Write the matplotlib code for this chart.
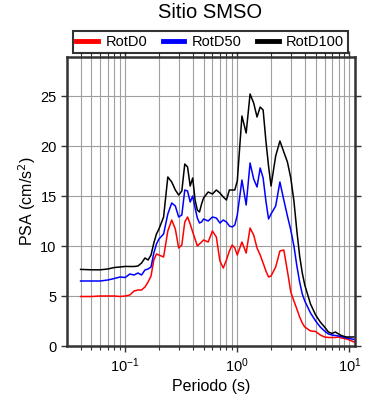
import numpy as np
import matplotlib
matplotlib.use("Agg")
import matplotlib.pyplot as plt
from matplotlib.ticker import LogLocator, NullFormatter, MultipleLocator

plt.rcParams['font.family'] = ['Liberation Sans', 'DejaVu Sans']

periodo = [0.04, 0.05, 0.06, 0.07, 0.08, 0.09, 0.10, 0.11, 0.12, 0.13, 0.14, 0.15,
           0.16, 0.17, 0.18, 0.19, 0.20, 0.22, 0.24, 0.26, 0.28, 0.30, 0.32, 0.34,
           0.36, 0.38, 0.40, 0.42, 0.44, 0.46, 0.48, 0.50, 0.55, 0.60, 0.65, 0.70,
           0.75, 0.80, 0.85, 0.90, 0.95, 1.0, 1.1, 1.2, 1.3, 1.4, 1.5, 1.6, 1.7,
           1.8, 1.9, 2.0, 2.2, 2.4, 2.6, 2.8, 3.0, 3.2, 3.4, 3.6, 3.8, 4.0, 4.5,
           5.0, 5.5, 6.0, 6.5, 7.0, 7.5, 8.0, 8.5, 9.0, 9.5, 10.0, 11.0]

rotd100 = [7.66, 7.62, 7.62, 7.7, 7.85, 7.9, 7.96, 7.95, 7.95, 8.0, 8.3, 8.8,
           8.6, 9.1, 10.3, 11.2, 11.7, 12.9, 16.9, 16.4, 15.6, 15.1, 15.5, 18.2,
           17.9, 16.0, 16.8, 14.6, 13.6, 13.4, 14.2, 14.8, 15.4, 15.2, 15.6, 15.3,
           14.9, 14.6, 15.6, 15.6, 15.6, 16.5, 23.0, 21.3, 25.2, 24.3, 22.9, 23.9, 23.6,
           20.5, 18.0, 16.0, 19.0, 20.5, 19.4, 18.4, 16.8, 14.5, 11.5, 9.0, 7.3, 6.1, 4.2,
           3.1, 2.4, 1.9, 1.4, 1.25, 1.4, 1.2, 1.05, 0.95, 0.9, 0.9, 0.9]

rotd50 = [6.5, 6.5, 6.5, 6.6, 6.75, 6.9, 6.85, 7.2, 7.1, 7.3, 7.1, 7.6,
          7.7, 7.9, 9.3, 10.2, 10.7, 11.2, 13.2, 14.3, 14.0, 12.9, 13.1, 15.6,
          15.5, 14.4, 15.0, 13.8, 12.8, 12.3, 12.4, 12.7, 12.5, 12.9, 12.8, 12.3,
          12.6, 12.4, 12.0, 11.9, 12.1, 13.1, 16.6, 14.1, 18.3, 16.7, 15.9, 17.8, 16.8,
          14.5, 12.7, 13.2, 14.0, 16.4, 14.6, 13.0, 11.6, 10.0, 8.0, 6.4, 5.2, 4.5, 3.3,
          2.5, 1.9, 1.5, 1.2, 1.1, 1.05, 1.0, 0.95, 0.85, 0.8, 0.75, 0.65]

rotd0 = [4.95, 4.95, 5.0, 5.0, 5.0, 4.95, 5.0, 5.1, 5.5, 5.6, 5.6, 5.9,
         6.4, 7.0, 8.6, 9.2, 9.1, 8.9, 11.5, 12.6, 11.7, 9.8, 10.1, 12.4,
         12.9, 12.2, 11.4, 10.7, 10.0, 10.2, 10.4, 10.6, 10.4, 11.5, 10.9, 8.5,
         7.8, 8.6, 9.5, 10.1, 9.8, 9.1, 10.4, 9.3, 11.8, 11.1, 9.8, 9.1, 8.3,
         7.5, 6.9, 7.0, 7.9, 9.5, 9.6, 7.5, 5.4, 4.5, 3.7, 2.9, 2.3, 1.9, 1.5,
         1.45, 1.1, 0.9, 0.85, 0.85, 0.85, 0.9, 0.8, 0.75, 0.7, 0.6, 0.4]

fig = plt.figure(figsize=(3.9, 4.0), dpi=100)
ax = fig.add_axes([0.172, 0.135, 0.738, 0.7225])

ax.plot(periodo, rotd0, color='red', lw=1.1, label='RotD0')
ax.plot(periodo, rotd50, color='blue', lw=1.1, label='RotD50')
ax.plot(periodo, rotd100, color='black', lw=1.1, label='RotD100')

ax.set_xscale('log')
ax.set_xlim(0.0303, 11.2)
ax.set_ylim(0, 28.9)
ax.xaxis.set_major_locator(LogLocator(base=10))
ax.xaxis.set_minor_locator(LogLocator(base=10, subs=np.arange(2, 10)))
ax.xaxis.set_minor_formatter(NullFormatter())
ax.yaxis.set_major_locator(MultipleLocator(5))

ax.grid(True, which='both', axis='x', color='#a0a0a0', lw=0.8)
ax.grid(True, which='major', axis='y', color='#a0a0a0', lw=0.8)
ax.set_axisbelow(True)

for s in ax.spines.values():
    s.set_linewidth(1.8)
    s.set_color('#333333')
ax.tick_params(which='both', direction='out', top=True, right=True,
               labelsize=10.5, color='#333333')
ax.tick_params(which='major', length=4, width=1)
ax.tick_params(which='minor', length=3, width=0.8)

ax.set_xlabel('Periodo (s)', fontsize=11.5, labelpad=3)
ax.set_ylabel('PSA (cm/s$^2$)', fontsize=11.5, labelpad=2)

fig.text(0.538, 0.968, 'Sitio SMSO', ha='center', va='center', fontsize=14.5)
leg = ax.legend(loc='lower left', bbox_to_anchor=(0.02, 1.015, 0.955, 0.06),
                mode='expand', ncol=3, fontsize=10.5, frameon=True, fancybox=False,
                handlelength=1.5, handletextpad=0.5, borderpad=0.25,
                borderaxespad=0, columnspacing=1.0)
leg.get_frame().set_edgecolor('black')
leg.get_frame().set_linewidth(1.5)
for h in leg.get_lines():
    h.set_linewidth(3.5)

fig.savefig('out.png', dpi=100)
